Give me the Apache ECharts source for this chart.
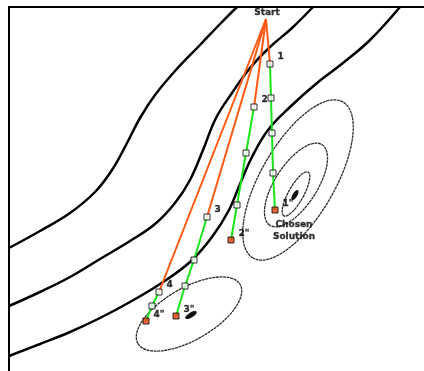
<!DOCTYPE html>
<html><head><meta charset="utf-8">
<script src="https://cdn.jsdelivr.net/npm/echarts@6/dist/echarts.min.js"></script>
<style>html,body{margin:0;padding:0;background:#fff}#c{width:424px;height:371px}</style>
</head><body><div id="c"></div>
<script>
// Diagram coordinates (x to the right, y downward)
const startPoint = [266, 19];
const stepLabels = ['1', '2', '3', '4'];
const endLabels = ['1"', '2"', '3"', '4"'];
const path1 = [[270, 64], [271, 98], [272, 133], [273, 173], [275, 210]];
const path2 = [[254, 107], [246, 153], [237, 205], [231, 240]];
const path3 = [[207, 217], [194, 260], [185, 286], [176, 316]];
const path4 = [[159, 292], [152, 306], [146, 321]];
const contourA = [[9, 248], [40, 231], [70, 213], [95, 192], [112, 170], [126, 145], [140, 118], [155, 95], [175, 71], [200, 45], [222, 22], [237, 7]];
const contourB = [[9, 306], [40, 292], [70, 277], [100, 259], [130, 241], [155, 224], [175, 203], [190, 180], [203, 150], [216, 118], [232, 93], [250, 68], [270, 47], [292, 28], [313, 7]];
const contourC = [[9, 356], [40, 344], [70, 332], [100, 318], [130, 302], [160, 284], [190, 262], [212, 237], [229, 210], [240, 184], [252, 157], [268, 130], [290, 107], [317, 83], [343, 63], [370, 40], [400, 7]];
// ellipse contours: [cx, cy, rx, ry, tilt(deg)]
const ellipses = [[298, 180, 90, 37, 60], [296, 185, 48, 21, 57], [296, 194, 25, 7.6, 61], [189, 314, 59, 26, 30]];
const minima = [[295, 195, 5, 1.8, 58], [191, 315, 6, 2, 32]];
const startText = 'Start';
const solutionText = ['Chosen', 'Solution'];
const startTextPos = [267, 13];
const solutionTextPos = [[294, 225], [294, 237]];

const paths = [path1, path2, path3, path4];
const ORANGE = '#ff5a14', GREEN = '#19e619';
const FONT = { color: '#000', fontWeight: 'bold', fontFamily: 'DejaVu Sans', fontSize: 9, textBorderColor: '#000', textBorderWidth: 0.3 };
const series = [];

function ellipseSeries(data, filled) {
  return {
    type: 'custom', data: data, z: 1, silent: true,
    renderItem: function (params, api) {
      const c = api.coord([api.value(0), api.value(1)]);
      const s = api.size([api.value(2), api.value(3)]);
      return {
        type: 'ellipse', x: c[0], y: c[1], rotation: api.value(4) * Math.PI / 180,
        shape: { cx: 0, cy: 0, rx: s[0], ry: s[1] },
        style: filled ? { fill: '#111', stroke: '#111', lineWidth: 1 }
                      : { fill: 'none', stroke: '#2e2e2e', lineWidth: 1.3, lineDash: [3, 0.6] }
      };
    }
  };
}
series.push(ellipseSeries(ellipses, false));
series.push(ellipseSeries(minima, true));

[contourA, contourB, contourC].forEach(function (d) {
  series.push({ type: 'line', data: d, smooth: 0.4, symbol: 'none', z: 2, silent: true,
    lineStyle: { color: '#000', width: 2.5 } });
});

paths.forEach(function (p) {
  series.push({ type: 'line', data: [startPoint, p[0]], symbol: 'none', z: 3, silent: true,
    lineStyle: { color: ORANGE, width: 2 } });
});
paths.forEach(function (p) {
  series.push({ type: 'line', data: p, symbol: 'none', z: 4, silent: true,
    lineStyle: { color: GREEN, width: 2 } });
});
paths.forEach(function (p, i) {
  series.push({ type: 'scatter', data: p.slice(0, p.length - 1), symbol: 'rect', symbolSize: 6, z: 5, silent: true,
    itemStyle: { color: '#fff', borderColor: '#000', borderWidth: 1 },
    label: Object.assign({ show: true, position: 'right', offset: [-1, -7],
      formatter: function (prm) { return prm.dataIndex === 0 ? stepLabels[i] : ''; } }, FONT) });
  series.push({ type: 'scatter', data: [p[p.length - 1]], symbol: 'rect', symbolSize: 6, z: 5, silent: true,
    itemStyle: { color: '#e8400c', borderColor: '#000', borderWidth: 1 },
    label: Object.assign({ show: true, position: 'right', offset: [-1, -6], formatter: endLabels[i] }, FONT) });
});
series.push({ type: 'scatter', data: [startTextPos], symbolSize: 0, z: 6, silent: true,
  label: Object.assign({ show: true, position: 'inside', formatter: startText }, FONT) });
series.push({ type: 'scatter', data: solutionTextPos, symbolSize: 0, z: 6, silent: true,
  label: Object.assign({ show: true, position: 'inside',
    formatter: function (p) { return solutionText[p.dataIndex]; } }, FONT) });

const chart = echarts.init(document.getElementById('c'));
chart.setOption({
  animation: false,
  grid: { left: 9, top: 7, right: 0, bottom: 0 },
  xAxis: { type: 'value', min: 9, max: 424, position: 'top',
    axisLine: { show: true, onZero: false, lineStyle: { color: '#000', width: 2 } },
    axisTick: { show: false }, axisLabel: { show: false }, splitLine: { show: false } },
  yAxis: { type: 'value', min: 7, max: 371, inverse: true,
    axisLine: { show: true, onZero: false, lineStyle: { color: '#000', width: 2 } },
    axisTick: { show: false }, axisLabel: { show: false }, splitLine: { show: false } },
  series: series
});
</script></body></html>
